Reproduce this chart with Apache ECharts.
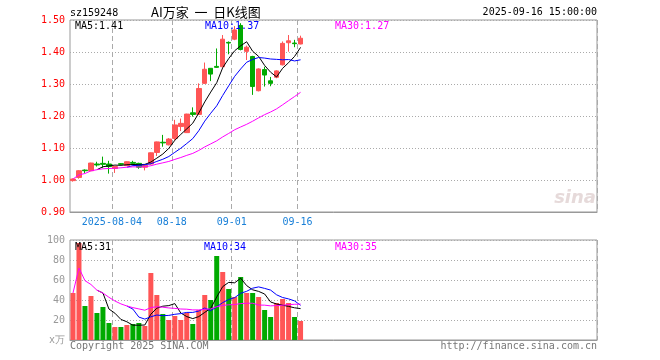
<!DOCTYPE html>
<html><head><meta charset="utf-8">
<script src="https://cdn.jsdelivr.net/npm/echarts@6/dist/echarts.min.js"></script>
<style>html,body{margin:0;padding:0;background:#fff}#c{width:660px;height:360px}</style>
</head><body><div id="c"></div>
<script>
const dates = ['2025-07-24','2025-07-25','2025-07-28','2025-07-29','2025-07-30','2025-07-31','2025-08-01','2025-08-04','2025-08-05','2025-08-06','2025-08-07','2025-08-08','2025-08-11','2025-08-12','2025-08-13','2025-08-14','2025-08-15','2025-08-18','2025-08-19','2025-08-20','2025-08-21','2025-08-22','2025-08-25','2025-08-26','2025-08-27','2025-08-28','2025-08-29','2025-09-01','2025-09-02','2025-09-03','2025-09-04','2025-09-05','2025-09-08','2025-09-09','2025-09-10','2025-09-11','2025-09-12','2025-09-15','2025-09-16'];
const opens  = [0.998,1.008,1.031,1.029,1.050,1.052,1.050,1.036,1.051,1.045,1.055,1.052,1.040,1.050,1.086,1.118,1.110,1.130,1.167,1.148,1.210,1.205,1.302,1.349,1.355,1.354,1.430,1.440,1.483,1.402,1.386,1.279,1.345,1.310,1.321,1.360,1.429,1.428,1.425];
const closes = [1.003,1.029,1.029,1.053,1.047,1.049,1.042,1.042,1.049,1.057,1.052,1.040,1.046,1.085,1.119,1.116,1.128,1.172,1.177,1.206,1.205,1.286,1.346,1.331,1.352,1.440,1.428,1.469,1.408,1.415,1.292,1.347,1.328,1.302,1.341,1.427,1.435,1.426,1.443];
const lows   = [0.995,1.004,1.022,1.028,1.042,1.038,1.020,1.022,1.046,1.044,1.046,1.035,1.030,1.048,1.075,1.104,1.108,1.123,1.153,1.147,1.198,1.203,1.300,1.309,1.350,1.352,1.393,1.437,1.405,1.375,1.266,1.277,1.292,1.293,1.318,1.358,1.401,1.415,1.424];
const highs  = [1.005,1.031,1.033,1.054,1.057,1.073,1.060,1.044,1.053,1.058,1.060,1.054,1.048,1.086,1.120,1.141,1.131,1.188,1.192,1.207,1.227,1.302,1.367,1.350,1.411,1.453,1.433,1.481,1.490,1.420,1.388,1.349,1.354,1.322,1.343,1.433,1.453,1.438,1.451];
const volumes = [47,97,34,44,27,33,17,13,13,15,16,17,14,67,45,26,20,24,20,27,16,30,45,40,84,68,51,43,63,47,47,43,30,23,37,41,37,23,19];
const labelDates = ['2025-08-04','2025-08-18','2025-09-01','2025-09-16'];
const labelTexts = ['2025-08-04','08-18','09-01','09-16'];
const priceTicks = {min:0.9, max:1.5, step:0.1};
const volTicks = {min:0, max:100, step:20};

const SLOTS = 88;
const cats = dates.slice();
while (cats.length < SLOTS) cats.push('');
const markIdx = labelDates.map(d => dates.indexOf(d));

function ma(arr, n, expanding) {
  return arr.map((v, i) => {
    if (i < n - 1 && !expanding) return null;
    const s = Math.max(0, i - n + 1);
    let sum = 0;
    for (let k = s; k <= i; k++) sum += arr[k];
    return sum / (i - s + 1);
  });
}
const pMA5 = ma(closes,5,false), pMA10 = ma(closes,10,false), pMA30 = ma(closes,30,true);
const vMA5 = ma(volumes,5,false), vMA10 = ma(volumes,10,false), vMA30 = ma(volumes,30,true);
const last = a => a[a.length-1];
const trunc = (v, d) => (Math.floor(v * Math.pow(10,d) + 1e-9) / Math.pow(10,d)).toFixed(d);

const RED = '#ff5555', GREEN = '#00aa00';
const MONO = '"DejaVu Sans Mono", "Liberation Mono", monospace';
const candles = dates.map((d,i) => [opens[i], closes[i], lows[i], highs[i]]);
const volData = volumes.map((v,i) => ({value: v, itemStyle: {color: closes[i] >= opens[i] ? RED : GREEN}}));

const vSplit = {show: true, interval: (i) => markIdx.includes(i), lineStyle: {color: '#aaa', type: [5,3], width: 1}};
const hSplit = {show: true, lineStyle: {color: '#aaa', type: [1,2], width: 1}};

function txt(x, y, text, color, align, font) {
  return {type: 'text', x: x, y: y, z: 100, style: {text: text, fill: color, font: font || ('10px ' + MONO), textAlign: align || 'left', textVerticalAlign: 'middle'}};
}

const chart = echarts.init(document.getElementById('c'), null, {renderer: 'canvas'});
chart.setOption({
  animation: false,
  backgroundColor: '#fff',
  grid: [
    {left: 70, top: 20, width: 527, height: 192, show: true, borderColor: '#999', borderWidth: 1, backgroundColor: 'transparent'},
    {left: 70, top: 240, width: 527, height: 100, show: true, borderColor: '#999', borderWidth: 1, backgroundColor: 'transparent'}
  ],
  xAxis: [
    {type: 'category', gridIndex: 0, data: cats, boundaryGap: true,
     axisLine: {lineStyle: {color: '#999'}}, axisTick: {show: false},
     axisLabel: {interval: (i) => markIdx.includes(i), formatter: (v, i) => labelTexts[markIdx.indexOf(i)] || '',
       color: '#1a80d8', fontFamily: MONO, fontSize: 10, margin: 5, padding: [0, 6, 0, 0]},
     splitLine: vSplit},
    {type: 'category', gridIndex: 1, data: cats, boundaryGap: true,
     axisLine: {lineStyle: {color: '#999'}}, axisTick: {show: false}, axisLabel: {show: false},
     splitLine: vSplit}
  ],
  yAxis: [
    {type: 'value', gridIndex: 0, min: priceTicks.min, max: priceTicks.max, interval: priceTicks.step,
     axisLine: {show: false}, axisTick: {show: false},
     axisLabel: {color: '#ff0000', fontFamily: MONO, fontSize: 10, margin: 5, formatter: v => v.toFixed(2)},
     splitLine: hSplit},
    {type: 'value', gridIndex: 1, min: volTicks.min, max: volTicks.max, interval: volTicks.step,
     axisLine: {show: false}, axisTick: {show: false},
     axisLabel: {color: '#999', fontFamily: MONO, fontSize: 10, margin: 5, formatter: v => v === 0 ? 'x万' : String(v)},
     splitLine: hSplit}
  ],
  series: [
    {type: 'candlestick', xAxisIndex: 0, yAxisIndex: 0, data: candles, barWidth: 5,
     itemStyle: {color: RED, color0: GREEN, borderColor: RED, borderColor0: GREEN, borderWidth: 1}},
    {type: 'line', xAxisIndex: 0, yAxisIndex: 0, data: pMA5, showSymbol: false, symbol: 'none', lineStyle: {color: '#000', width: 1}, z: 5},
    {type: 'line', xAxisIndex: 0, yAxisIndex: 0, data: pMA10, showSymbol: false, symbol: 'none', lineStyle: {color: '#0000ff', width: 1}, z: 5},
    {type: 'line', xAxisIndex: 0, yAxisIndex: 0, data: pMA30, showSymbol: false, symbol: 'none', lineStyle: {color: '#ff00ff', width: 1}, z: 5},
    {type: 'bar', xAxisIndex: 1, yAxisIndex: 1, data: volData, barWidth: 5},
    {type: 'line', xAxisIndex: 1, yAxisIndex: 1, data: vMA5, showSymbol: false, symbol: 'none', lineStyle: {color: '#000', width: 1}, z: 5},
    {type: 'line', xAxisIndex: 1, yAxisIndex: 1, data: vMA10, showSymbol: false, symbol: 'none', lineStyle: {color: '#0000ff', width: 1}, z: 5},
    {type: 'line', xAxisIndex: 1, yAxisIndex: 1, data: vMA30, showSymbol: false, symbol: 'none', lineStyle: {color: '#ff00ff', width: 1}, z: 5}
  ],
  graphic: [
    txt(70, 13, 'sz159248', '#000', 'left', '10px ' + MONO),
    txt(151, 12, 'AI万家  一  日K线图', '#000', 'left', '13px "Noto Sans CJK SC", sans-serif'),
    txt(597, 12.5, dates[dates.length-1] + ' 15:00:00', '#000', 'right'),
    txt(75, 26, 'MA5:' + trunc(last(pMA5), 2), '#000'),
    txt(205, 26, 'MA10:' + trunc(last(pMA10), 2), '#0000ff'),
    txt(335, 26, 'MA30:' + trunc(last(pMA30), 2), '#ff00ff'),
    txt(75, 247, 'MA5:' + trunc(last(vMA5), 0), '#000'),
    txt(204, 247, 'MA10:' + trunc(last(vMA10), 0), '#0000ff'),
    txt(335, 247, 'MA30:' + trunc(last(vMA30), 0), '#ff00ff'),
    txt(70, 346, 'Copyright 2025 SINA.COM', '#777'),
    txt(597, 346, 'http://finance.sina.com.cn', '#777', 'right'),
    {type: 'text', x: 596, y: 198, z: 1, style: {text: 'sina', fill: '#e6dada', font: 'italic bold 18px "DejaVu Sans", sans-serif', textAlign: 'right', textVerticalAlign: 'middle'}}
  ]
});
</script>
</body></html>
